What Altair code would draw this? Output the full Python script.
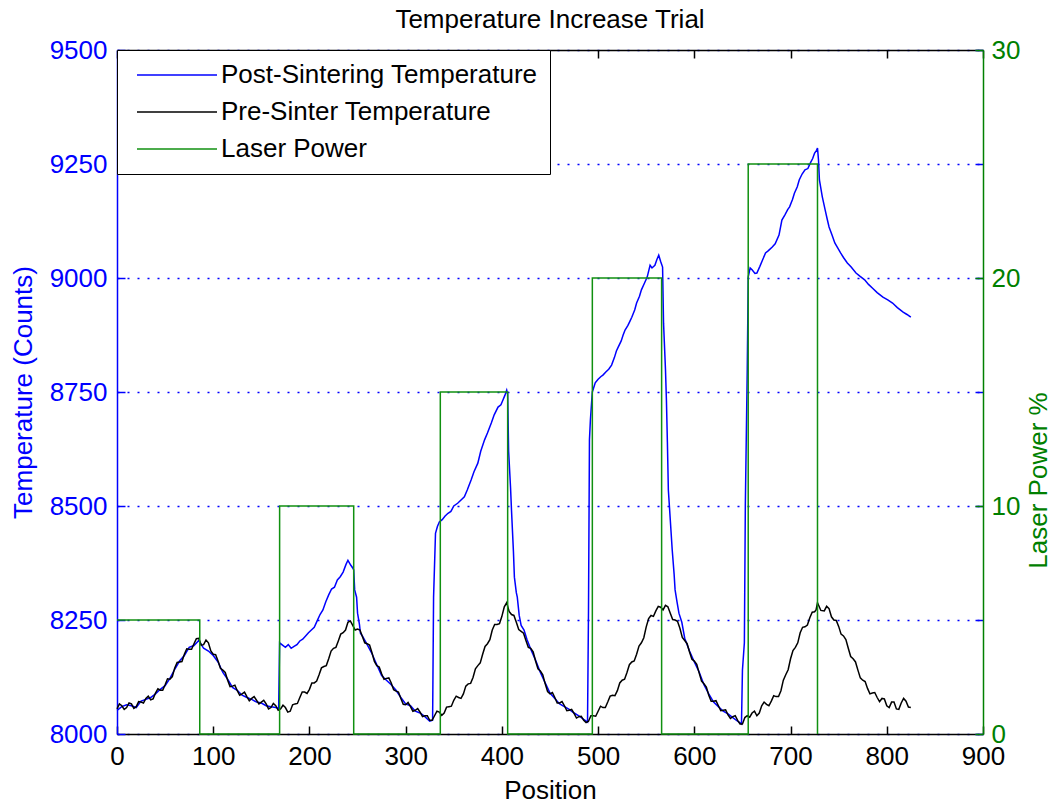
import altair as alt
import pandas as pd

FONT = "Liberation Sans"
FS = 26
BLUE = "#0000FF"
GREEN = "#008000"
BLACK = "#000000"

SERIES = ["Post-Sintering Temperature", "Pre-Sinter Temperature", "Laser Power"]
COLORS = [BLUE, BLACK, "#109010"]

X_TICKS = [0, 100, 200, 300, 400, 500, 600, 700, 800, 900]
Y_TICKS = [8000, 8250, 8500, 8750, 9000, 9250, 9500]
P_TICKS = [0, 10, 20, 30]

# Pre-sinter temperature (black), main readings
pre_pos = [0, 5, 10, 15, 20, 25, 30, 35, 40, 45, 50, 55, 60, 65, 70, 75, 80, 85, 90, 95,
           100, 105, 110, 115, 120, 125, 130, 135, 140, 145, 150, 155, 160, 165, 170, 175, 180, 185, 190, 195,
           200, 205, 210, 215, 220, 225, 230, 235, 240, 245, 250, 255, 260, 265, 270, 275, 280, 285, 290, 295,
           300, 305, 310, 315, 320, 325, 330, 335, 340, 345, 350, 355, 360, 365, 370, 375, 380, 385, 390, 395,
           400, 405, 410, 415, 420, 425, 430, 435, 440, 445, 450, 455, 460, 465, 470, 475, 480, 485, 490, 495,
           500, 505, 510, 515, 520, 525, 530, 535, 540, 545, 550, 555, 560, 565, 570, 575, 580, 585, 590, 595,
           600, 605, 610, 615, 620, 625, 630, 635, 640, 645, 650, 655, 660, 665, 670, 675, 680, 685, 690, 695,
           700, 705, 710, 715, 720, 725, 728, 735, 740, 745, 750, 755, 760, 765, 770, 775, 780, 785, 790, 795,
           800, 805, 810, 815, 820, 825]
pre_val = [8055, 8062, 8058, 8066, 8060, 8070, 8078, 8075, 8090, 8096,
           8108, 8120, 8145, 8158, 8175, 8186, 8198, 8210, 8196, 8200,
           8175, 8160, 8140, 8118, 8105, 8095, 8088, 8082, 8078, 8074,
           8070, 8066, 8058, 8062, 8055, 8058, 8050, 8066, 8080, 8092,
           8098, 8112, 8130, 8148, 8165, 8188, 8204, 8222, 8245, 8238,
           8230, 8214, 8198, 8178, 8150, 8132, 8122, 8112, 8094, 8078,
           8064, 8060, 8052, 8048, 8040, 8030, 8040, 8048, 8046, 8060,
           8074, 8080, 8088, 8110, 8124, 8150, 8175, 8198, 8228, 8240,
           8258, 8288, 8262, 8245, 8225, 8205, 8188, 8160, 8138, 8110,
           8088, 8080, 8068, 8062, 8052, 8045, 8038, 8030, 8028, 8040,
           8050, 8058, 8070, 8085, 8095, 8118, 8135, 8158, 8175, 8200,
           8235, 8260, 8270, 8278, 8282, 8265, 8250, 8232, 8205, 8180,
           8160, 8134, 8110, 8085, 8072, 8062, 8052, 8042, 8038, 8030,
           8022, 8040, 8046, 8040, 8062, 8065, 8072, 8082, 8095, 8130,
           8165, 8190, 8222, 8235, 8255, 8268, 8288, 8270, 8275, 8250,
           8236, 8215, 8188, 8165, 8140, 8118, 8100, 8090, 8080, 8078,
           8062, 8070, 8055, 8068, 8072, 8058]

# Pre-sinter temperature (black), in-between readings (noise)
pre_pos_b = [2.5, 7.5, 12.5, 17.5, 22.5, 27.5, 32.5, 37.5, 42.5, 47.5,
             52.5, 57.5, 62.5, 67.5, 72.5, 77.5, 82.5, 87.5, 92.5, 97.5,
             102.5, 107.5, 112.5, 117.5, 122.5, 127.5, 132.5, 137.5, 142.5, 147.5,
             152.5, 157.5, 162.5, 167.5, 172.5, 177.5, 182.5, 187.5, 192.5, 197.5,
             202.5, 207.5, 212.5, 217.5, 222.5, 227.5, 232.5, 237.5, 242.5, 247.5,
             252.5, 257.5, 262.5, 267.5, 272.5, 277.5, 282.5, 287.5, 292.5, 297.5,
             302.5, 307.5, 312.5, 317.5, 322.5, 327.5, 332.5, 337.5, 342.5, 347.5,
             352.5, 357.5, 362.5, 367.5, 372.5, 377.5, 382.5, 387.5, 392.5, 397.5,
             402.5, 407.5, 412.5, 417.5, 422.5, 427.5, 432.5, 437.5, 442.5, 447.5,
             452.5, 457.5, 462.5, 467.5, 472.5, 477.5, 482.5, 487.5, 492.5, 497.5,
             502.5, 507.5, 512.5, 517.5, 522.5, 527.5, 532.5, 537.5, 542.5, 547.5,
             552.5, 557.5, 562.5, 567.5, 572.5, 577.5, 582.5, 587.5, 592.5, 597.5,
             602.5, 607.5, 612.5, 617.5, 622.5, 627.5, 632.5, 637.5, 642.5, 647.5,
             652.5, 657.5, 662.5, 667.5, 672.5, 677.5, 682.5, 687.5, 692.5, 697.5,
             702.5, 707.5, 712.5, 717.5, 722.5, 726.5, 731.5, 737.5, 742.5, 747.5,
             752.5, 757.5, 762.5, 767.5, 772.5, 777.5, 782.5, 787.5, 792.5, 797.5,
             802.5, 807.5, 812.5, 817.5, 822.5]
pre_val_b = [8066, 8054, 8068, 8056, 8071, 8068, 8083, 8077, 8099, 8096,
             8121, 8126, 8157, 8159, 8187, 8186, 8209, 8195, 8206, 8182,
             8174, 8144, 8135, 8104, 8107, 8085, 8092, 8073, 8082, 8066,
             8074, 8055, 8067, 8052, 8063, 8048, 8064, 8067, 8092, 8089,
             8112, 8116, 8145, 8150, 8182, 8190, 8219, 8228, 8248, 8228,
             8228, 8200, 8195, 8159, 8147, 8120, 8123, 8097, 8092, 8065,
             8069, 8050, 8056, 8038, 8040, 8030, 8050, 8041, 8059, 8061,
             8083, 8078, 8105, 8111, 8143, 8156, 8192, 8207, 8240, 8242,
             8279, 8269, 8260, 8229, 8221, 8190, 8180, 8143, 8130, 8093,
             8091, 8068, 8071, 8051, 8054, 8035, 8039, 8025, 8040, 8039,
             8061, 8058, 8083, 8084, 8112, 8120, 8152, 8160, 8193, 8211,
             8253, 8258, 8280, 8272, 8279, 8251, 8247, 8212, 8198, 8164,
             8153, 8116, 8103, 8072, 8073, 8051, 8053, 8034, 8040, 8022,
             8036, 8037, 8050, 8046, 8070, 8062, 8084, 8082, 8118, 8141,
             8183, 8200, 8234, 8239, 8267, 8272, 8271, 8280, 8257, 8249,
             8219, 8207, 8170, 8158, 8123, 8115, 8088, 8091, 8071, 8077,
             8058, 8070, 8054, 8078, 8059]

# Post-sintering temperature (blue)
post_pos = [0, 5, 10, 15, 20, 25, 30, 35, 40, 45, 50, 55, 60, 65, 70, 75, 80, 85, 90, 95,
            100, 105, 110, 115, 120, 125, 130, 135, 140, 145, 150, 155, 160, 165, 168,
            169, 172, 175, 178, 181, 184, 187, 190, 193, 196, 199, 202, 205, 208, 211, 214, 217, 220, 223, 226,
            229, 232, 235, 238, 240, 243, 245, 246, 247, 249, 250, 252, 253, 255, 260, 265, 270, 275, 280, 285,
            290, 295, 300, 305, 310, 315, 320, 325, 328,
            329, 331, 333, 335, 338, 341, 344, 347, 350, 354, 357, 361, 364, 368, 371, 375, 378, 382, 385, 389,
            392, 396, 399, 401, 403, 405, 406, 407, 409, 410, 412, 413, 415, 416, 418, 420, 423, 426, 430, 435,
            440, 445, 450, 455, 460, 465, 470, 475, 480, 485, 489,
            490, 491, 492, 494, 497, 500, 503, 505, 508, 511, 514, 517, 519, 521, 524, 526, 528, 531, 533, 535,
            538, 540, 543, 545, 548, 551, 554, 556, 559, 561, 563, 565, 567, 568, 570, 571, 572, 573, 575, 577,
            579, 580, 582, 584, 587, 590, 595, 600, 605, 610, 615, 620, 625, 630, 635, 640, 645, 649,
            650, 652, 653, 655, 656, 658, 660, 663, 665, 668, 671, 674, 677, 681, 684, 688, 691, 694, 697, 699,
            702, 704, 707, 709, 712, 715, 718, 721, 723, 725, 727, 728, 729, 730, 733, 736, 738, 740, 743, 746,
            749, 752, 755, 759, 763, 768, 772, 777, 781, 785, 790, 796, 801, 806, 811, 817, 821, 825]
post_val = [8052, 8060, 8064, 8062, 8058, 8072, 8076, 8080, 8088, 8098, 8106, 8122, 8142, 8160, 8172, 8190, 8194, 8205, 8188, 8182,
            8172, 8158, 8135, 8120, 8102, 8096, 8085, 8080, 8076, 8070, 8068, 8062, 8060, 8058, 8056,
            8200, 8195, 8190, 8196, 8188, 8192, 8196, 8204, 8208, 8215, 8222, 8228, 8234, 8248, 8262, 8272, 8290, 8305, 8318, 8322,
            8338, 8345, 8355, 8372, 8381, 8370, 8364, 8360, 8316, 8300, 8265, 8240, 8221, 8215, 8196, 8176, 8152, 8128, 8118, 8108,
            8096, 8080, 8066, 8062, 8050, 8046, 8038, 8028, 8030,
            8300, 8440, 8455, 8465, 8470, 8478, 8484, 8488, 8500, 8506, 8512, 8520, 8535, 8557, 8575, 8594, 8620, 8645, 8660, 8682,
            8700, 8717, 8722, 8732, 8742, 8754, 8745, 8620, 8540, 8490, 8400, 8344, 8310, 8300, 8260, 8238, 8228, 8208, 8186, 8162,
            8135, 8112, 8090, 8078, 8066, 8060, 8054, 8046, 8040, 8032, 8026,
            8268, 8645, 8689, 8750, 8770, 8778, 8784, 8787, 8794, 8800, 8809, 8826, 8840, 8849, 8862, 8875, 8886, 8896, 8905, 8914,
            8930, 8945, 8960, 8974, 8988, 9002, 9028, 9022, 9028, 9040, 9050, 9036, 9024, 8901, 8800, 8732, 8640, 8535, 8470, 8404,
            8350, 8316, 8290, 8265, 8245, 8210, 8182, 8158, 8136, 8108, 8088, 8070, 8060, 8050, 8044, 8036, 8028, 8022,
            8140, 8200, 8500, 8800, 9002, 9022, 9018, 9010, 9011, 9025, 9040, 9055, 9060, 9068, 9075, 9094, 9127, 9138, 9150, 9156,
            9172, 9186, 9200, 9215, 9228, 9237, 9240, 9254, 9262, 9274, 9280, 9285, 9260, 9215, 9178, 9149, 9130, 9112, 9095, 9077,
            9066, 9055, 9045, 9033, 9024, 9011, 9004, 8996, 8986, 8978, 8968, 8958, 8952, 8945, 8935, 8925, 8920, 8914]

# Laser power (green step)
laser_pos = [0, 86, 86, 169, 169, 246, 246, 336, 336, 406, 406, 494, 494, 566, 566, 656, 656, 728, 728]
laser_val = [5, 5, 0, 0, 10, 10, 0, 0, 15, 15, 0, 0, 20, 20, 0, 0, 25, 25, 0]


def frame(pos, val, name):
    df = pd.DataFrame({"pos": pos, "val": val})
    df = df.sort_values("pos", kind="stable").reset_index(drop=True)
    df["series"] = name
    df["idx"] = range(len(df))
    return df


post_df = frame(post_pos, post_val, SERIES[0])
pre_df = frame(pre_pos + pre_pos_b, pre_val + pre_val_b, SERIES[1])
laser_df = pd.DataFrame({"pos": laser_pos, "val": laser_val, "series": SERIES[2],
                         "idx": list(range(len(laser_pos)))})

TS = {"expr": "-8"}
x_scale = alt.Scale(domain=[0, 900], nice=False, zero=False)
t_scale = alt.Scale(domain=[8000, 9500], nice=False, zero=False)
p_scale = alt.Scale(domain=[0, 30], nice=False, zero=False)
color_scale = alt.Scale(domain=SERIES, range=COLORS)

legend = alt.Legend(title=None, orient="none", legendX=0, legendY=0, padding=12, rowPadding=11,
                    strokeColor="black", fillColor="white", labelFont=FONT, labelFontSize=FS,
                    labelColor="black", labelLimit=600, symbolType="M-0.5,0H7.5", symbolSize=400,
                    symbolStrokeWidth=1.5, labelOffset=66, cornerRadius=0)
color = alt.Color("series:N", scale=color_scale, legend=legend)

common = dict(labelFont=FONT, labelFontSize=FS, titleFont=FONT, titleFontSize=FS,
              titleFontWeight="normal", tickWidth=1.5, domainWidth=1.5, labelFlush=False)

x_bottom = alt.Axis(orient="bottom", values=X_TICKS, format="d", tickSize=TS, tickColor=BLACK,
                    domainColor=BLACK, labelColor=BLACK, labelPadding=17, grid=False,
                    title="Position", titleColor=BLACK, titleBaseline="alphabetic", titleY=64, **common)
x_top = alt.Axis(orient="top", values=X_TICKS, tickSize=TS, tickColor=BLACK, domainColor=BLACK,
                 labels=False, grid=False, title=None, tickWidth=1.5, domainWidth=1.5)
y_left = alt.Axis(orient="left", values=Y_TICKS, format="d", tickSize=TS, tickColor=BLUE,
                  domainColor=BLUE, labelColor=BLUE, labelPadding=18, grid=True, gridColor=BLUE,
                  gridDash=[2, 8], gridWidth=1.5, title="Temperature (Counts)", titleColor=BLUE,
                  titleAngle=270, titleBaseline="alphabetic", titleX=-86, titleY=342, **common)
y_right_temp = alt.Axis(orient="right", values=Y_TICKS, tickSize=TS, tickColor=BLUE, domain=False,
                        labels=False, grid=False, title=None, tickWidth=1.5)
y_right_power = alt.Axis(orient="right", values=P_TICKS, format="d", tickSize=TS, tickColor=GREEN,
                         domainColor=GREEN, labelColor=GREEN, labelPadding=16, grid=False,
                         title="Laser Power %", titleColor=GREEN, titleAngle=270,
                         titleBaseline="alphabetic", titleX=63, titleY=430, **common)

post = alt.Chart(post_df).mark_line(strokeWidth=1.5).encode(
    x=alt.X("pos:Q", scale=x_scale, axis=x_bottom),
    y=alt.Y("val:Q", scale=t_scale, axis=y_left),
    color=color,
    order=alt.Order("idx:Q"),
)
pre = alt.Chart(pre_df).mark_line(strokeWidth=1.5).encode(
    x=alt.X("pos:Q", scale=x_scale, axis=x_top),
    y=alt.Y("val:Q", scale=t_scale, axis=y_right_temp),
    color=color,
    order=alt.Order("idx:Q"),
)
laser = alt.Chart(laser_df).mark_line(strokeWidth=1.5).encode(
    x=alt.X("pos:Q", scale=x_scale, axis=None),
    y=alt.Y("val:Q", scale=p_scale, axis=y_right_power),
    color=color,
    order=alt.Order("idx:Q"),
)

chart = alt.layer(post, pre, laser).resolve_scale(y="independent").resolve_axis(
    x="independent", y="independent"
).properties(
    width=866, height=684,
    autosize=alt.AutoSizeParams(type="none"),
    padding={"left": 117, "top": 50, "right": 69, "bottom": 71},
    title=alt.TitleParams("Temperature Increase Trial", font=FONT, fontSize=FS, fontWeight="normal",
                          color=BLACK, offset=4, anchor="middle", frame="group"),
).configure_view(stroke=None)

chart.save("out.html", embed_options={"renderer": "svg", "actions": False})
